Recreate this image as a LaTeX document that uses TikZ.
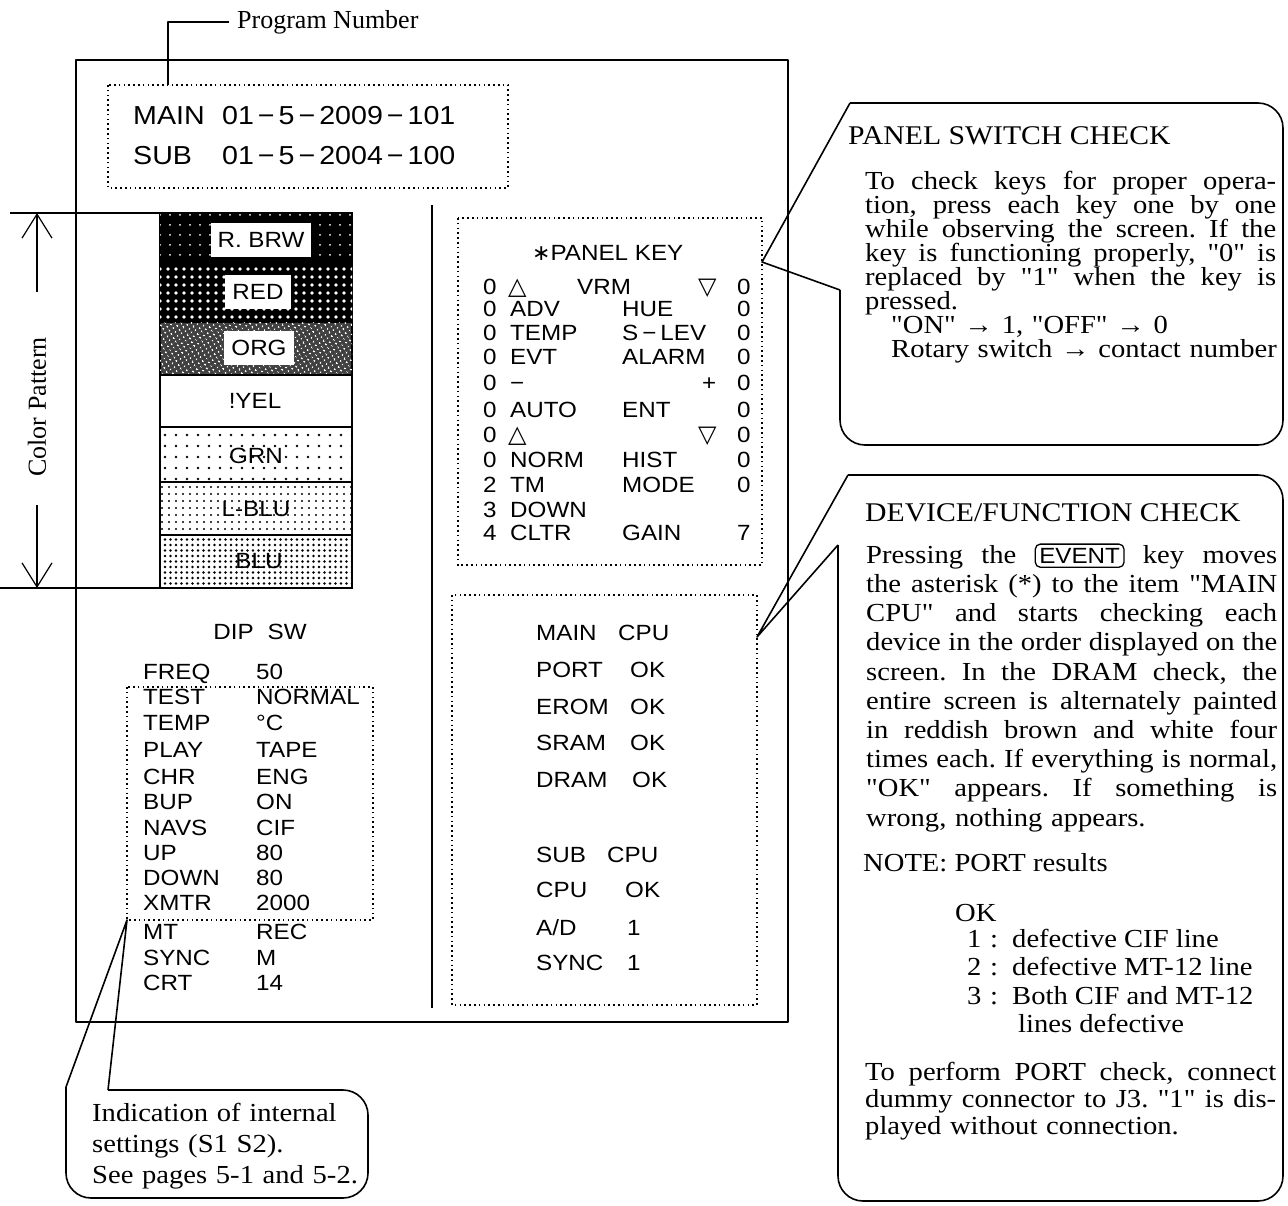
\documentclass[tikz,border=0pt]{standalone}
\usepackage{fontspec}
\setmainfont{Liberation Serif}
\setsansfont{Liberation Sans}[FakeStretch=1.1]
\newfontfamily\trifont{DejaVu Sans}
\newfontfamily\notefont{Liberation Serif}[FakeStretch=1.1]
\usetikzlibrary{arrows.meta, patterns.meta}

\newcommand\scrtext{\sffamily\fontsize{22}{25}\selectfont}
\newcommand\progtext{\sffamily\fontsize{26}{28}\selectfont}
\newcommand\dsh{\kern4pt−\kern4pt}
\newcommand\jl[1]{{\spaceskip=0.25em plus 2em minus 0.05em\xspaceskip=\spaceskip
    \makebox[411pt][s]{#1}}}
\newcommand\uptri{{\trifont\fontsize{24}{24}\selectfont △}}
\newcommand\dntri{{\trifont\fontsize{24}{24}\selectfont ▽}}
\newcommand\evkey{\smash{\tikz[baseline=(ev.base)]\node[draw, line width=1.3pt, rounded corners=5pt,
    inner xsep=4pt, inner ysep=4pt, font=\sffamily\fontsize{22}{22}\selectfont] (ev) {EVENT};}}
\frenchspacing

\begin{document}
\begin{tikzpicture}[x=1pt, y=-1pt,
  lw/.style={line width=1.6pt, line join=round},
  dotbox/.style={line width=1.6pt, dash pattern=on 1.6pt off 3.2pt},
  scr/.style={font=\scrtext, inner sep=0pt, anchor=west, text height=15.75pt, text depth=0pt},
  prog/.style={font=\progtext, inner sep=0pt, anchor=west, text height=18.6pt, text depth=0pt},
  lbl/.style={scr, anchor=center, fill=white, inner xsep=7pt, inner ysep=9pt},
  note/.style={font=\notefont\fontsize{26}{24}\selectfont, inner sep=0pt, anchor=north west, text width=411pt},
  head/.style={font=\notefont\fontsize{27}{30}\selectfont, inner sep=0pt, anchor=base west},
  body/.style={font=\notefont\fontsize{26}{27}\selectfont, inner sep=0pt, anchor=base west},
  dimarr/.style={-{Straight Barb[length=24pt, width=30pt]}, line width=1.2pt},
  rbrw/.style={fill=black, postaction={pattern={Dots[distance=10pt, radius=1pt]}, pattern color=white}},
  redfill/.style={fill=black, postaction={pattern={Dots[distance=8pt, radius=1.8pt]}, pattern color=white}},
  orgfill/.style={fill=black!75, postaction={pattern={Dots[distance=4pt, radius=1.1pt, angle=30]}, pattern color=white}},
  yelfill/.style={fill=white},
  grnfill/.style={pattern={Dots[distance=11pt, radius=1.3pt]}},
  lblufill/.style={pattern={Dots[distance=6.5pt, radius=1.2pt]}},
  blufill/.style={pattern={Dots[distance=5.5pt, radius=1.3pt]}}]

  \useasboundingbox (0,0) rectangle (1288,1205);

  % screen frame and divider
  \draw[lw] (76,60) rectangle (788,1022);
  \draw[lw] (432,205) -- (432,1008);

  % program number
  \node[font=\fontsize{26}{26}\selectfont, anchor=base west, inner sep=0pt] (pnum) at (237,28) {Program Number};
  \coordinate (pbtop) at (168,85);
  \draw[lw] (pnum.west) ++(-8,0) -| (pbtop);
  \draw[dotbox] (108,85) rectangle (508,188);
  \node[prog] (pmain) at (133,115) {MAIN};
  \node[prog] (pmainno) at (222,115) {01\dsh 5\dsh 2009\dsh 101};
  \node[prog] (psub) at (133,155) {SUB};
  \node[prog] (psubno) at (222,155) {01\dsh 5\dsh 2004\dsh 100};

  % colour pattern
  \foreach \t/\b/\c in {213/265/rbrw, 265/322/redfill, 322/375/orgfill, 375/427/yelfill,
                        427/482/grnfill, 482/535/lblufill, 535/588/blufill}
    \draw[line width=1.3pt, \c] (160,\t) rectangle (352,\b);
  \node[lbl] (cbrw) at (261,240) {R. BRW};
  \node[lbl] (cred) at (258,292) {RED};
  \node[lbl] (corg) at (259,348) {ORG};
  \node[scr, anchor=center] (cyel) at (255,401) {!YEL};
  \node[scr, anchor=center] (cgrn) at (256,456) {GRN};
  \node[scr, anchor=center] (clblu) at (256,509) {L-BLU};
  \node[scr, anchor=center] (cblu) at (259,561) {BLU};

  \draw[lw] (10,213) -- (160,213);
  \draw[lw] (0,588) -- (160,588);
  \node[rotate=90, font=\fontsize{26}{26}\selectfont, inner sep=0pt] (cpat) at (37,407) {Color Pattern};
  \coordinate (cptop) at (37,213);
  \coordinate (cpbot) at (37,588);
  \draw[dimarr] ([yshift=45pt]cpat.east) -- (cptop);
  \draw[dimarr] ([yshift=-28pt]cpat.west) -- (cpbot);

  % DIP switch list
  \node[scr, anchor=center] (diphead) at (260,632) {DIP\hspace{14pt}SW};
  \foreach \y/\a/\b in {672/FREQ/50, 697/TEST/NORMAL, 723/TEMP/°C, 750/PLAY/TAPE, 777/CHR/ENG,
                        802/BUP/ON, 828/NAVS/CIF, 853/UP/80, 878/DOWN/80, 903/XMTR/2000,
                        932/MT/REC, 958/SYNC/M, 983/CRT/14} {
    \node[scr] (dipa\y) at (143,\y) {\a};
    \node[scr] (dipb\y) at (256,\y) {\b};
  }
  \draw[dotbox] (127,687) rectangle (373,920);
  \coordinate (diptip) at (127,920);

  % panel key screen
  \draw[dotbox] (458,218) rectangle (762,565);
  \node[scr] (pkhead) at (532,253) {{\trifont∗}PANEL KEY};
  \node[scr] (pk1a) at (483,287) {0};
  \node[scr] (pk1b) at (508,287) {\uptri};
  \node[scr] (pk1c) at (577,287) {VRM};
  \node[scr] (pk1d) at (698,287) {\dntri};
  \node[scr] (pk1e) at (737,287) {0};
  \foreach \y/\a/\b/\c/\d in {309/0/ADV/HUE/0, 333/0/TEMP/S\dsh LEV/0, 357/0/EVT/ALARM/0,
                              410/0/AUTO/ENT/0, 460/0/NORM/HIST/0, 485/2/TM/MODE/0,
                              510/3/DOWN//, 533/4/CLTR/GAIN/7} {
    \node[scr] (pka\y) at (483,\y) {\a};
    \node[scr] (pkb\y) at (510,\y) {\b};
    \node[scr] (pkc\y) at (622,\y) {\c};
    \node[scr] (pkd\y) at (737,\y) {\d};
  }
  \node[scr] (pk5a) at (483,383) {0};
  \node[scr] (pk5b) at (510,383) {−};
  \node[scr] (pk5c) at (702,383) {+};
  \node[scr] (pk5d) at (737,383) {0};
  \node[scr] (pk7a) at (483,435) {0};
  \node[scr] (pk7b) at (508,435) {\uptri};
  \node[scr] (pk7c) at (698,435) {\dntri};
  \node[scr] (pk7d) at (737,435) {0};
  \coordinate (pswtip) at (762,262);

  % device check screen
  \draw[dotbox] (452,595) rectangle (757,1005);
  \foreach \y/\a/\b/\bx in {633/MAIN/CPU/618, 670/PORT/OK/630, 707/EROM/OK/630, 743/SRAM/OK/630,
                            780/DRAM/OK/632, 855/SUB/CPU/607, 890/CPU/OK/625, 928/{A/D}/1/627,
                            963/SYNC/1/627} {
    \node[scr] (dva\y) at (536,\y) {\a};
    \node[scr] (dvb\y) at (\bx,\y) {\b};
  }
  \coordinate (devtip) at (757,637);

  % panel switch callout
  \coordinate (pswB) at (850,103);
  \coordinate (pswC) at (840,290);
  \draw[lw, rounded corners=25pt] (pswB) -- (1283,103) -- (1283,445) -- (840,445) -- (pswC);
  \draw[lw] (pswB) -- (pswtip) -- (pswC);
  \node[head] (pswhead) at (848,144) {PANEL SWITCH CHECK};
  \node[note] (pswtext) at (865,171) {\jl{To check keys for proper opera-}\\
    \jl{tion, press each key one by one}\\
    \jl{while observing the screen. If the}\\
    \jl{key is functioning properly, "0" is}\\
    \jl{replaced by "1" when the key is}\\
    \mbox{pressed.}\\
    \mbox{\hspace*{26pt}"ON" → 1, "OFF" → 0}\\
    \mbox{\hspace*{26pt}Rotary switch → contact number}};

  % device/function callout
  \coordinate (devB) at (848,475);
  \coordinate (devC) at (838,545);
  \draw[lw, rounded corners=25pt] (devB) -- (1283,475) -- (1283,1201) -- (838,1201) -- (devC);
  \draw[lw] (devB) -- (devtip) -- (devC);
  \node[head] (devhead) at (865,521) {DEVICE/FUNCTION CHECK};
  \node[note, font=\notefont\fontsize{26}{29.2}\selectfont] (devtext) at (866,545) {\jl{Pressing the \evkey\ key moves}\\
    \jl{the asterisk (*) to the item "MAIN}\\
    \jl{CPU" and starts checking each}\\
    \jl{device in the order displayed on the}\\
    \jl{screen. In the DRAM check, the}\\
    \jl{entire screen is alternately painted}\\
    \jl{in reddish brown and white four}\\
    \jl{times each. If everything is normal,}\\
    \jl{"OK" appears. If something is}\\
    \mbox{wrong, nothing appears.}};
  \node[body] (portnote) at (863,871) {NOTE: PORT results};
  \node[body] (pok) at (955,921) {OK};
  \foreach \y/\n/\t in {947/1/defective CIF line, 975/2/defective MT-12 line, 1004/3/Both CIF and MT-12} {
    \node[body] (pn\n) at (967,\y) {\n};
    \node[body] (pc\n) at (990,\y) {:};
    \node[body] (pt\n) at (1012,\y) {\t};
  }
  \node[body] (pt4) at (1018,1032) {lines defective};
  \node[note, font=\notefont\fontsize{26}{27}\selectfont] (porttext) at (865,1062) {\jl{To perform PORT check, connect}\\
    \jl{dummy connector to J3. "1" is dis-}\\
    \mbox{played without connection.}};

  % internal settings callout
  \coordinate (dipB) at (108,1090);
  \coordinate (dipC) at (66,1087);
  \draw[lw, rounded corners=25pt] (dipB) -- (368,1090) -- (368,1198) -- (66,1198) -- (dipC);
  \draw[lw] (dipB) -- (diptip) -- (dipC);
  \node[note, text width=280pt, font=\notefont\fontsize{26}{31}\selectfont] (dipnote) at (92,1103)
    {Indication of internal\\ settings (S1 S2).\\ See pages 5-1 and 5-2.};
\end{tikzpicture}
\end{document}
